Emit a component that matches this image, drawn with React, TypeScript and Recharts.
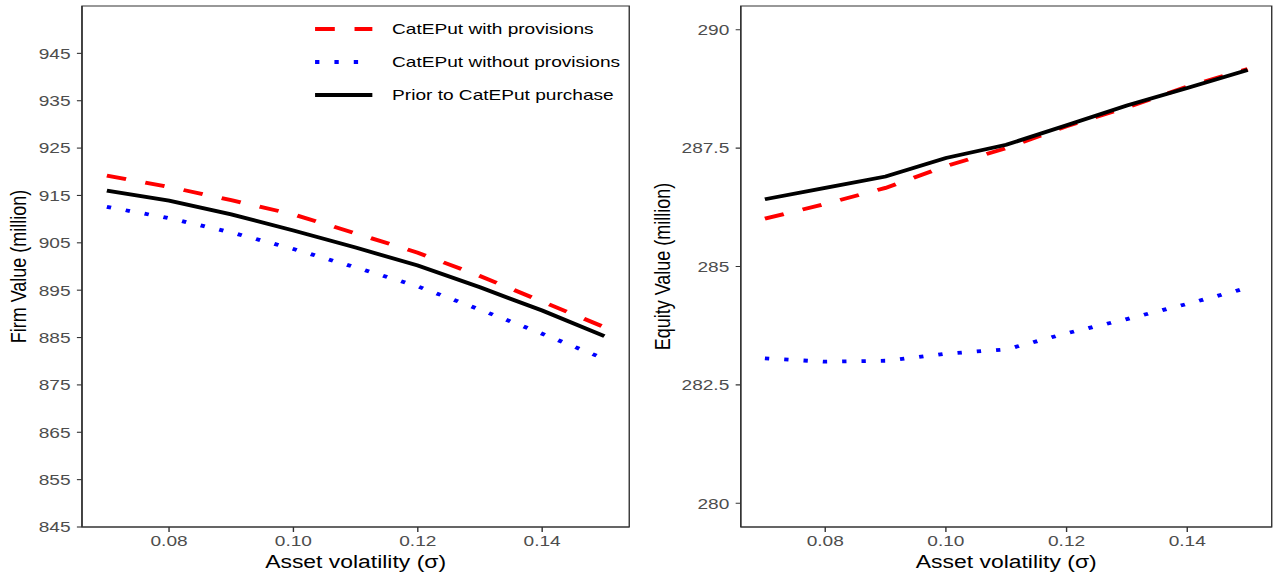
import { Legend, Line, LineChart, ReferenceArea, XAxis, YAxis } from "recharts";

// asset volatility grid
const sigma = [0.07, 0.08, 0.09, 0.1, 0.11, 0.12, 0.13, 0.14, 0.15];

// firm value (million)
const firmWith = [919.2, 916.8, 914.0, 911.0, 907.0, 902.9, 898.0, 892.6, 887.2];
const firmWithout = [912.6, 910.2, 907.2, 903.7, 899.8, 895.8, 890.9, 885.8, 880.5];
const firmPrior = [916.0, 913.9, 911.0, 907.6, 904.0, 900.2, 895.6, 890.7, 885.3];

// equity value (million)
const equityWith = [286.01, 286.32, 286.66, 287.12, 287.5, 287.96, 288.36, 288.8, 289.17];
const equityWithout = [283.06, 282.99, 283.01, 283.16, 283.25, 283.59, 283.89, 284.21, 284.55];
const equityPrior = [286.42, 286.66, 286.9, 287.29, 287.57, 287.98, 288.4, 288.77, 289.15];

const xTicks = [0.08, 0.1, 0.12, 0.14];
const firmTicks = [845, 855, 865, 875, 885, 895, 905, 915, 925, 935, 945];
const equityTicks = [280, 282.5, 285, 287.5, 290];

const seriesNames = [
  "CatEPut with provisions",
  "CatEPut without provisions",
  "Prior to CatEPut purchase",
];

const firmData = sigma.map((s, i) => ({
  sigma: s,
  with: firmWith[i],
  without: firmWithout[i],
  prior: firmPrior[i],
}));

const equityData = sigma.map((s, i) => ({
  sigma: s,
  with: equityWith[i],
  without: equityWithout[i],
  prior: equityPrior[i],
}));

const AXIS = "#333333";
const TICK_TEXT = "#4D4D4D";
const LW = 3.8;

const styles = [
  { key: "with", color: "#FF0000", dash: "15.5 15.5" },
  { key: "without", color: "#0000FF", dash: "3.4 11.8" },
  { key: "prior", color: "#000000", dash: undefined as string | undefined },
];

const xDomain: [number, number] = [0.066, 0.154];

function XTitle({ viewBox }: any) {
  if (!viewBox) return null;
  return (
    <text
      x={viewBox.x + viewBox.width / 2}
      y={viewBox.y + 41}
      textAnchor="middle"
      fontSize={18}
      fill="#000"
    >
      Asset volatility (σ)
    </text>
  );
}

function yTitle(text: string, cx: number) {
  return ({ viewBox }: any) => {
    if (!viewBox) return null;
    const y = viewBox.y + viewBox.height / 2;
    return (
      <text
        x={cx}
        y={y}
        transform={`rotate(-90 ${cx} ${y})`}
        textAnchor="middle"
        dominantBaseline="central"
        fontSize={18}
        fill="#000"
      >
        {text}
      </text>
    );
  };
}

function LegendBox() {
  const rowY = [29, 62, 95];
  return (
    <svg width={500} height={120} style={{ display: "block" }}>
      {styles.map((s, i) => (
        <g key={s.key}>
          <line
            x1={247.5}
            x2={292.5}
            y1={rowY[i]}
            y2={rowY[i]}
            stroke={s.color}
            strokeWidth={LW}
            strokeDasharray={s.dash}
          />
          <text x={308} y={rowY[i]} dominantBaseline="central" fontSize={15} fill="#000">
            {seriesNames[i]}
          </text>
        </g>
      ))}
    </svg>
  );
}

function Panel({
  data,
  yDomain,
  yTicks,
  yWidth,
  rightMargin,
  title,
  titleX,
  fmt,
  legend,
}: {
  data: any[];
  yDomain: [number, number];
  yTicks: number[];
  yWidth: number;
  rightMargin: number;
  title: string;
  titleX: number;
  fmt: (v: number) => string;
  legend?: boolean;
}) {
  return (
    <LineChart
      width={500}
      height={574}
      data={data}
      margin={{ top: 6, right: rightMargin, left: 0, bottom: 0 }}
    >
      <XAxis
        dataKey="sigma"
        type="number"
        domain={xDomain}
        ticks={xTicks}
        allowDataOverflow
        tickFormatter={(v: number) => v.toFixed(2)}
        tick={{ fill: TICK_TEXT, fontSize: 15 }}
        tickSize={5}
        tickMargin={3.5}
        height={47}
        axisLine={{ stroke: AXIS, strokeWidth: 1.1 }}
        tickLine={{ stroke: AXIS, strokeWidth: 1.1 }}
        label={XTitle}
      />
      <YAxis
        type="number"
        domain={yDomain}
        ticks={yTicks}
        allowDataOverflow
        interval={0}
        tickFormatter={fmt}
        tick={{ fill: TICK_TEXT, fontSize: 15 }}
        tickSize={4}
        tickMargin={5}
        width={yWidth}
        axisLine={{ stroke: AXIS, strokeWidth: 1.1 }}
        tickLine={{ stroke: AXIS, strokeWidth: 1.1 }}
        label={yTitle(title, titleX)}
      />
      {/* panel border */}
      <ReferenceArea
        x1={xDomain[0]}
        x2={xDomain[1]}
        y1={yDomain[0]}
        y2={yDomain[1]}
        fill="none"
        fillOpacity={0}
        stroke={AXIS}
        strokeWidth={1.1}
        ifOverflow="visible"
      />
      {styles.map((s, i) => (
        <Line
          key={s.key}
          type="linear"
          dataKey={s.key}
          name={seriesNames[i]}
          stroke={s.color}
          strokeWidth={LW}
          strokeDasharray={s.dash}
          dot={false}
          activeDot={false}
          isAnimationActive={false}
        />
      ))}
      {legend && (
        <Legend
          layout="vertical"
          align="center"
          verticalAlign="middle"
          content={() => <LegendBox />}
          wrapperStyle={{ position: "absolute", left: 0, top: 0, width: 500, height: 120 }}
        />
      )}
    </LineChart>
  );
}

export default function App() {
  return (
    <div
      style={{
        position: "absolute",
        left: 0,
        top: 0,
        width: 1000,
        height: 574,
        background: "#fff",
        fontFamily: '"Liberation Sans", Arimo, Arial, sans-serif',
        transform: "scaleX(1.273)",
        transformOrigin: "0 0",
        display: "flex",
      }}
    >
      <Panel
        data={firmData}
        yDomain={[845, 955]}
        yTicks={firmTicks}
        yWidth={64.4}
        rightMargin={5.7}
        title="Firm Value (million)"
        titleX={14}
        fmt={(v) => String(v)}
        legend
      />
      <Panel
        data={equityData}
        yDomain={[279.5, 290.5]}
        yTicks={equityTicks}
        yWidth={81.9}
        rightMargin={1}
        title="Equity Value (million)"
        titleX={20}
        fmt={(v) => (Number.isInteger(v) ? String(v) : v.toFixed(1))}
      />
    </div>
  );
}
